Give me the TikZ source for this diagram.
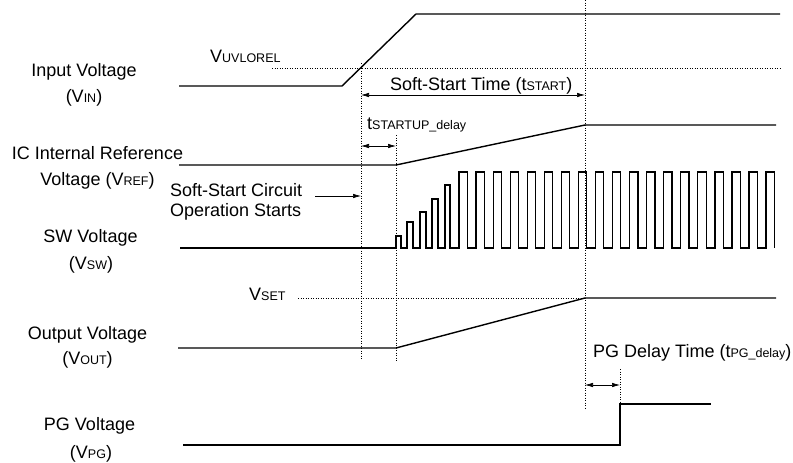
\documentclass[tikz,border=0pt]{standalone}
\usepackage{fontspec}
\setmainfont{Liberation Sans}
\usetikzlibrary{arrows.meta}
\newcommand\smallsub[1]{{\fontsize{12.5}{13}\selectfont #1}}
\begin{document}
\begin{tikzpicture}[x=1pt,y=-1pt,
  wave/.style={line width=1.4pt, line join=miter},
  swave/.style={line width=1.2pt, line join=miter},
  guide/.style={line width=0.7pt, dash pattern=on 1.2pt off 1.3pt},
  dimarrow/.style={line width=0.7pt, {Latex[length=8pt,width=4.5pt]}-{Latex[length=8pt,width=4.5pt]}},
  onearrow/.style={line width=0.7pt, -{Latex[length=8pt,width=4.5pt]}},
  lbl/.style={font=\fontsize{18}{20}\selectfont, inner sep=0pt, anchor=base},
  lbll/.style={font=\fontsize{18}{20}\selectfont, inner sep=0pt, anchor=base west},
]
\useasboundingbox (0,0) rectangle (793,463);

% ---------- coordinates ----------
\coordinate (g1t) at (361,63);   \coordinate (g1b) at (361,360);
\coordinate (g2t) at (396,135);  \coordinate (g2b) at (396,361);
\coordinate (g3t) at (585,0);    \coordinate (g3b) at (585,408);
\coordinate (g4t) at (620,369);  \coordinate (g4b) at (620,404);
\coordinate (ssL) at (361,95);   \coordinate (ssR) at (585,95);
\coordinate (tdL) at (361,146);  \coordinate (tdR) at (396,146);
\coordinate (pgL) at (585,385);  \coordinate (pgR) at (620,385);
\coordinate (scA) at (315,196);  \coordinate (scB) at (361,196);

% ---------- guides ----------
\draw[guide] (272,68) -- (780,68);
\draw[guide] (298,298) -- (585,298);
\draw[guide] (g1t) -- (g1b);
\draw[guide] (g2t) -- (g2b);
\draw[guide] (g3t) -- (g3b);
\draw[guide] (g4t) -- (g4b);

% ---------- waveforms ----------
\draw[wave] (179,86) -- (342,86) -- (416,14) -- (780,14);
\draw[wave] (179,165) -- (396,165) -- (585,125) -- (776,125);
\draw[swave] (180,248) -- (396,248)
  -- (396,236) -- (401,236) -- (401,248) -- (407,248)
  -- (407,222) -- (413,222) -- (413,248) -- (420,248)
  -- (420,212) -- (426,212) -- (426,248) -- (432,248)
  -- (432,199) -- (438,199) -- (438,248) -- (445,248)
  -- (445,185) -- (450,185) -- (450,248)
  \foreach \i in {0,...,18} {
    -- ({459+\i*17.06},248) -- ({459+\i*17.06},172)
    -- ({467.3+\i*17.06},172) -- ({467.3+\i*17.06},248)
  };
\draw[wave] (178,348) -- (396,348) -- (585,298) -- (776,298);
\draw[wave] (183,445) -- (620,445) -- (620,404) -- (711,404);

% ---------- dimension arrows ----------
\draw[dimarrow] (ssL) -- (ssR);
\draw[dimarrow] (tdL) -- (tdR);
\draw[dimarrow] (pgL) -- (pgR);
\draw[onearrow] (scA) -- (scB);

% ---------- labels ----------
\node[lbl] (in1) at (84,76) {Input Voltage};
\node[lbl] (in2) at (84,102) {(V\smallsub{IN})};
\node[lbll] (uvlo) at (210,62.7) {V\smallsub{UVLOREL}};
\node[lbll] (sst) at (390,90.5) {Soft-Start Time (t\smallsub{START})};
\node[lbll] (tsd) at (367,129.3) {t\smallsub{STARTUP\_delay}};
\node[lbl] (ref1) at (97.5,159.3) {IC Internal Reference};
\node[lbl] (ref2) at (97.5,185) {Voltage (V\smallsub{REF})};
\node[lbll] (sc1) at (170,196.5) {Soft-Start Circuit};
\node[lbll] (sc2) at (170,216.5) {Operation Starts};
\node[lbl] (sw1) at (90.5,242.7) {SW Voltage};
\node[lbl] (sw2) at (91,269) {(V\smallsub{SW})};
\node[lbll] (vset) at (249,300.7) {V\smallsub{SET}};
\node[lbl] (out1) at (87.5,339) {Output Voltage};
\node[lbl] (out2) at (87.5,364.3) {(V\smallsub{OUT})};
\node[lbll] (pgd) at (593,357.3) {PG Delay Time (t\smallsub{PG\_delay})};
\node[lbl] (pg1) at (89.5,430.7) {PG Voltage};
\node[lbl] (pg2) at (91,458.3) {(V\smallsub{PG})};
\end{tikzpicture}
\end{document}
